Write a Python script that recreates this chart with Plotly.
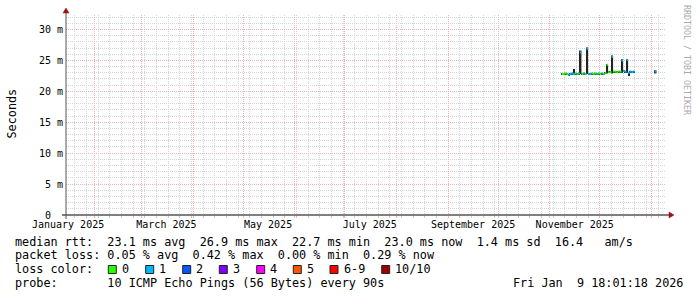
import plotly.graph_objects as go
from datetime import datetime, timedelta

# ---------------- data ----------------
days = [
    "2025-11-08", "2025-11-09", "2025-11-10", "2025-11-11", "2025-11-12", "2025-11-13",
    "2025-11-14", "2025-11-15", "2025-11-16", "2025-11-17", "2025-11-18", "2025-11-19",
    "2025-11-20", "2025-11-21", "2025-11-22", "2025-11-23", "2025-11-24", "2025-11-25",
    "2025-11-26", "2025-11-27", "2025-11-28", "2025-11-29", "2025-11-30", "2025-12-01",
    "2025-12-02", "2025-12-03", "2025-12-04", "2025-12-05", "2025-12-06", "2025-12-07",
    "2025-12-08", "2025-12-09", "2025-12-10", "2025-12-11", "2025-12-12", "2025-12-13",
    "2025-12-14", "2025-12-15", "2025-12-16", "2025-12-17", "2025-12-18", "2025-12-19",
    "2025-12-20", "2025-12-21", "2026-01-03",
]
median_ms = [
    22.8, 22.8, 22.9, 22.8, 22.7, 22.8, 22.9, 22.8, 22.9, 22.8, 22.9, 26.3,
    22.8, 22.9, 22.8, 26.9, 22.8, 22.8, 22.9, 22.8, 22.9, 22.8, 22.9, 22.8,
    22.9, 22.8, 23.0, 24.3, 23.1, 23.1, 25.6, 23.2, 23.2, 23.1, 23.2, 23.2,
    25.0, 23.3, 23.2, 25.1, 23.0, 23.2, 23.1, 23.2, 23.2,
]
loss = [
    0, 0, 0, 0, 1, 1, 1, 1, 0, 1, 0, 1,
    0, 1, 0, 1, 1, 1, 0, 0, 0, 1, 0, 0,
    1, 0, 0, 0, 0, 0, 1, 0, 0, 0, 0, 0,
    1, 1, 1, 1, 1, 1, 1, 1, 1,
]
smoke_lo_ms = [
    22.7, 22.7, 22.8, 22.7, 22.6, 22.7, 22.8, 22.7, 22.8, 22.7, 22.8, 22.8,
    22.7, 22.8, 22.7, 22.8, 22.7, 22.7, 22.8, 22.7, 22.8, 22.7, 22.8, 22.7,
    22.8, 22.7, 22.9, 22.9, 23.0, 23.0, 22.9, 23.1, 23.1, 23.0, 23.1, 23.1,
    23.0, 23.2, 23.1, 23.0, 22.5, 23.1, 23.0, 23.1, 22.9,
]
smoke_hi_ms = [
    22.9, 22.9, 23.0, 22.9, 22.8, 22.9, 23.0, 23.6, 23.0, 22.9, 23.0, 26.6,
    22.9, 23.0, 22.9, 27.1, 22.9, 22.9, 23.0, 22.9, 23.0, 22.9, 23.0, 22.9,
    23.0, 22.9, 23.1, 24.4, 23.2, 23.2, 25.8, 23.3, 23.3, 23.2, 23.3, 23.3,
    25.2, 23.4, 23.3, 25.2, 23.1, 23.3, 23.2, 23.3, 23.4,
]

loss_labels = ["0", "1", "2", "3", "4", "5", "6-9", "10/10"]
loss_colors = ["#26ff00", "#00b8ff", "#0059ff", "#7e00ff", "#ff00ff", "#ff5500", "#ff0000", "#a10000"]

y_tickvals = [0, 0.005, 0.010, 0.015, 0.020, 0.025, 0.030]
y_ticktext = ["0  ", "5 m", "10 m", "15 m", "20 m", "25 m", "30 m"]

x_label_dates = ["2025-01-16", "2025-03-16", "2025-05-16", "2025-07-16", "2025-09-16", "2025-11-16"]
x_label_text = ["January 2025", "March 2025", "May 2025", "July 2025", "September 2025", "November 2025"]

legend_line1 = "median rtt:  23.1 ms avg  26.9 ms max  22.7 ms min  23.0 ms now  1.4 ms sd  16.4   am/s"
legend_line2 = "packet loss: 0.05 % avg  0.42 % max  0.00 % min  0.29 % now"
legend_line3 = "loss color:"
legend_line4 = "probe:       10 ICMP Echo Pings (56 Bytes) every 90s"
stamp_text = "Fri Jan  9 18:01:18 2026"

row_y = [241.7, 255.4, 269.3, 283.2]
box_x = [108.3, 145.7, 182.7, 219.3, 256.7, 293.3, 330.0, 381.7]

end_time = datetime(2026, 1, 9, 18, 1, 18)
start_time = end_time - timedelta(days=360)
y_max = 0.03235

# ---------------- geometry helpers ----------------
W, H = 697, 297
PL, PR, PT, PB = 66, 666, 15, 215


def px(x):
    return (x - PL) / (PR - PL)


def py(y):
    return (PB - y) / (PB - PT)


FONT = "DejaVu Sans Mono"
LEG_SIZE = 11.8
one_day = timedelta(days=1)
day_dt = [datetime.fromisoformat(d) for d in days]

fig = go.Figure()

# smoke (min..max spread)
fig.add_trace(go.Bar(
    x=day_dt,
    y=[(h - l) / 1000 for l, h in zip(smoke_lo_ms, smoke_hi_ms)],
    base=[l / 1000 for l in smoke_lo_ms],
    offset=0, width=86400000,
    marker=dict(color="#222222", line=dict(width=0)),
    hoverinfo="skip", showlegend=False,
))

# median line coloured by loss
for lvl, col in enumerate(loss_colors):
    xs, ys = [], []
    for d, m, l in zip(day_dt, median_ms, loss):
        if l == lvl:
            xs += [d, d + one_day, None]
            ys += [m / 1000, m / 1000, None]
    if xs:
        fig.add_trace(go.Scatter(x=xs, y=ys, mode="lines",
                                 line=dict(color=col, width=2),
                                 hoverinfo="skip", showlegend=False))

minor_grid = "#d4d4d4"
major_grid = "#f0b4b4"

fig.update_layout(
    width=W, height=H, autosize=False,
    margin=dict(l=PL, r=W - PR, t=PT, b=H - PB),
    paper_bgcolor="white", plot_bgcolor="white",
    showlegend=False, barmode="overlay",
    xaxis=dict(
        type="date", range=[start_time, end_time],
        showgrid=True, gridcolor=major_grid, griddash="1px,1px", gridwidth=1,
        dtick="M1", tick0="2025-02-01",
        showticklabels=False, ticks="outside", ticklen=2, tickcolor=major_grid,
        minor=dict(dtick=7 * 86400000, tick0="2025-01-20", showgrid=True,
                   gridcolor=minor_grid, griddash="1px,1px", ticks="outside",
                   ticklen=2, tickcolor="#c8c8c8"),
        zeroline=False, showline=False, fixedrange=True,
    ),
    xaxis2=dict(
        type="date", range=[start_time, end_time], overlaying="x", anchor="y",
        side="bottom", showgrid=False, zeroline=False, showline=False,
        tickmode="array", tickvals=x_label_dates, ticktext=x_label_text,
        ticks="", tickfont=dict(family=FONT, size=10, color="#000000"),
        ticklabelstandoff=2,
    ),
    yaxis=dict(
        range=[0, y_max], tickmode="array", tickvals=y_tickvals,
        ticktext=[t.replace(" ", "\u00a0") for t in y_ticktext],
        tickfont=dict(family=FONT, size=10, color="#000000"),
        showgrid=True, gridcolor=major_grid, griddash="1px,1px", gridwidth=1,
        ticks="", ticklabelstandoff=2,
        minor=dict(dtick=0.001, tick0=0, showgrid=True, gridcolor=minor_grid,
                   griddash="1px,1px"),
        zeroline=False, showline=False, fixedrange=True,
    ),
)
# invisible trace to activate xaxis2
fig.add_trace(go.Scatter(x=[start_time], y=[None], xaxis="x2", yaxis="y",
                         mode="markers", hoverinfo="skip", showlegend=False))

shapes = []
# axes lines
shapes.append(dict(type="line", xref="paper", yref="paper",
                   x0=px(62), x1=px(670), y0=py(215), y1=py(215),
                   line=dict(color="#000000", width=1)))
shapes.append(dict(type="line", xref="paper", yref="paper",
                   x0=px(66), x1=px(66), y0=py(219), y1=py(12),
                   line=dict(color="#555555", width=1)))
# arrows
shapes.append(dict(type="path", xref="paper", yref="paper",
                   path=f"M {px(669)} {py(212)} L {px(674)} {py(215)} L {px(669)} {py(218)} Z",
                   fillcolor="#a01010", line=dict(color="#a01010", width=0.5)))
shapes.append(dict(type="path", xref="paper", yref="paper",
                   path=f"M {px(63)} {py(13)} L {px(66)} {py(8)} L {px(69)} {py(13)} Z",
                   fillcolor="#a01010", line=dict(color="#a01010", width=0.5)))
# loss colour boxes
for bx, col in zip(box_x, loss_colors):
    shapes.append(dict(type="rect", xref="paper", yref="paper",
                       x0=px(bx), x1=px(bx + 8), y0=py(265.5), y1=py(273.5),
                       fillcolor=col, line=dict(color="#222222", width=1)))
fig.update_layout(shapes=shapes)

annotations = []


def add_text(text, x, y, size=LEG_SIZE, color="#000000", angle=0, xanchor="left"):
    annotations.append(dict(
        text=text.replace(" ", "\u00a0"), xref="paper", yref="paper",
        x=px(x), y=py(y), xanchor=xanchor, yanchor="middle", showarrow=False,
        textangle=angle, borderpad=0, borderwidth=0,
        font=dict(family=FONT, size=size, color=color),
    ))


add_text(legend_line1, 15, row_y[0])
add_text(legend_line2, 15, row_y[1])
add_text(legend_line3, 15, row_y[2])
add_text(legend_line4, 15, row_y[3])
add_text(stamp_text, 512.5, row_y[3])
for bx, lab in zip(box_x, loss_labels):
    add_text(lab, bx + 13.5, row_y[2])

add_text("Seconds", 11, 113.5, angle=-90, xanchor="center")
add_text("RRDTOOL / TOBI OETIKER", 687, 60, size=8.3, color="#aaaaaa", angle=90,
         xanchor="center")
fig.update_layout(annotations=annotations)

fig.write_html("out.html")
